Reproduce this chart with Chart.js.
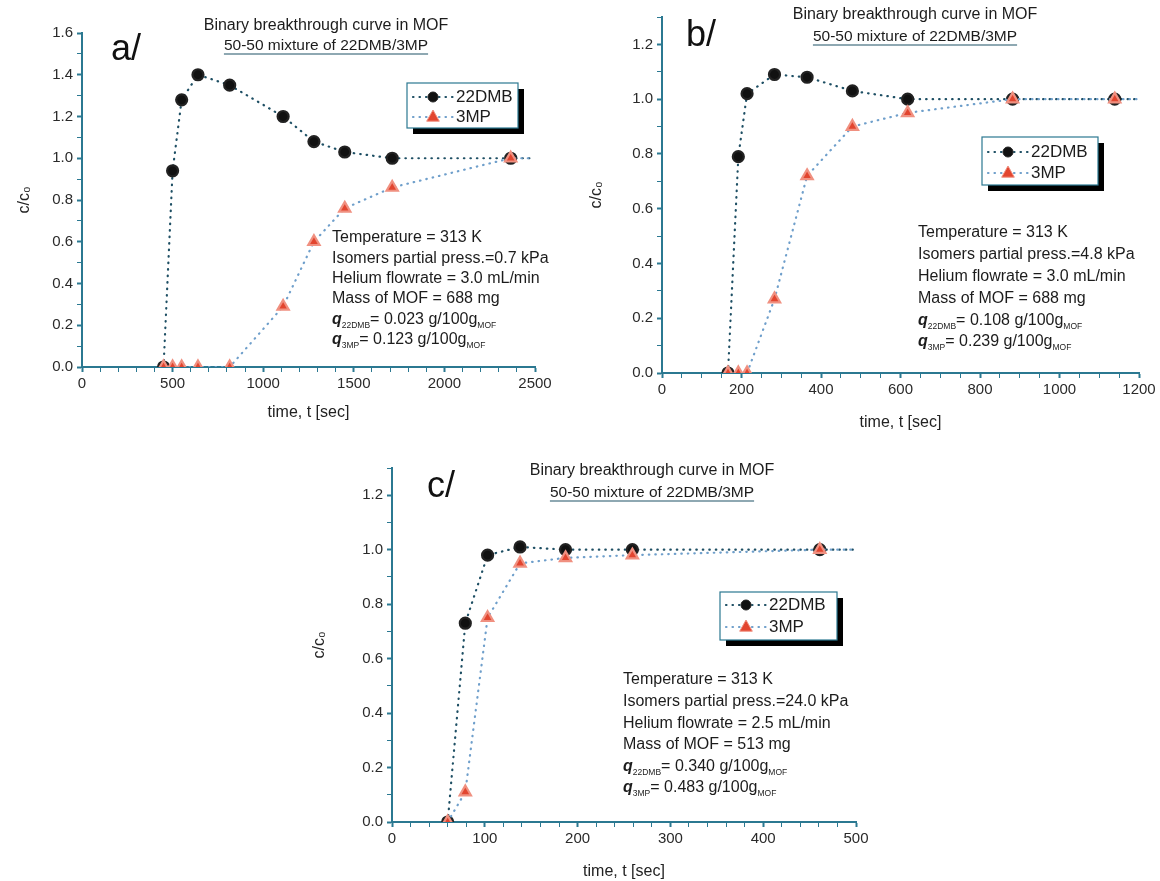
<!DOCTYPE html>
<html>
<head>
<meta charset="utf-8">
<script src="https://cdn.jsdelivr.net/npm/chart.js@4.4.1/dist/chart.umd.min.js"></script>
<style>
  html, body { margin: 0; padding: 0; background: #fff; }
  body { width: 1160px; height: 881px; position: relative; overflow: hidden; }
  canvas { position: absolute; }
</style>
</head>
<body>
<canvas id="chartA" width="580" height="440" style="left:0px;top:0px"></canvas>
<canvas id="chartB" width="580" height="440" style="left:580px;top:0px"></canvas>
<canvas id="chartC" width="590" height="431" style="left:300px;top:450px"></canvas>
<script>
(function () {
    "use strict";

    // data (time in sec, c/c0)
    const timeA = [450, 500, 550, 640, 815, 1110, 1280, 1450, 1712, 2366, 2480];
    const dmbA = [0, 0.94, 1.28, 1.40, 1.35, 1.20, 1.08, 1.03, 1.00, 1.00, 1.00];
    const mpA = [0, 0, 0, 0, 0, 0.29, 0.60, 0.76, 0.86, 1.00, 1.00];

    const timeB = [166, 192, 214, 283, 365, 479, 618, 882, 1139, 1200];
    const dmbB = [0, 0.79, 1.02, 1.09, 1.08, 1.03, 1.00, 1.00, 1.00, 1.00];
    const mpB = [0, 0, 0, 0.27, 0.72, 0.90, 0.95, 1.00, 1.00, 1.00];

    const timeC = [60, 79, 103, 138, 187, 259, 461, 500];
    const dmbC = [0, 0.73, 0.98, 1.01, 1.00, 1.00, 1.00, 1.00];
    const mpC = [0, 0.11, 0.75, 0.95, 0.97, 0.98, 1.00, 1.00];

    const seriesNames = ["22DMB", "3MP"];
    const titleText = "Binary breakthrough curve in MOF";
    const subtitleText = "50-50 mixture of 22DMB/3MP";

    const infoA = ["Temperature = 313 K", "Isomers partial press.=0.7 kPa", "Helium flowrate = 3.0 mL/min", "Mass of MOF = 688 mg"];
    const qA = ["= 0.023 g/100g", "= 0.123 g/100g"];
    const infoB = ["Temperature = 313 K", "Isomers partial press.=4.8 kPa", "Helium flowrate = 3.0 mL/min", "Mass of MOF = 688 mg"];
    const qB = ["= 0.108 g/100g", "= 0.239 g/100g"];
    const infoC = ["Temperature = 313 K", "Isomers partial press.=24.0 kPa", "Helium flowrate = 2.5 mL/min", "Mass of MOF = 513 mg"];
    const qC = ["= 0.340 g/100g", "= 0.483 g/100g"];

    const FONT = '"Liberation Sans", Arial, sans-serif';
    const axisColor = "#2b7891";
    const textColor = "#1c1c1c";

    Chart.defaults.font.family = FONT;

    function drawMarker(ctx, style, x, y, r, fill, stroke) {
        ctx.beginPath();
        if (style === "triangle") {
            ctx.moveTo(x, y - r);
            ctx.lineTo(x + r * 0.9, y + r * 0.6);
            ctx.lineTo(x - r * 0.9, y + r * 0.6);
            ctx.closePath();
        } else {
            ctx.arc(x, y, r, 0, Math.PI * 2);
        }
        ctx.fillStyle = fill;
        ctx.fill();
        ctx.lineWidth = 1;
        ctx.strokeStyle = stroke;
        ctx.stroke();
    }

    // titles, legend box and the experiment notes
    const panelText = {
        id: "panelText",
        afterDraw(chart, args, o) {
            const ctx = chart.ctx;
            ctx.save();
            ctx.fillStyle = "#111";
            ctx.textBaseline = "alphabetic";
            ctx.textAlign = "left";
            ctx.font = "36px " + FONT;
            ctx.fillText(o.tag, o.tagX, o.tagY);

            ctx.fillStyle = textColor;
            ctx.textAlign = "center";
            ctx.textBaseline = "middle";
            ctx.font = "16px " + FONT;
            ctx.fillText(titleText, o.titleX, o.titleY);
            ctx.font = "15.5px " + FONT;
            ctx.fillText(subtitleText, o.titleX, o.subY);
            const w = ctx.measureText(subtitleText).width;
            ctx.strokeStyle = "#1f5266";
            ctx.lineWidth = 1.2;
            ctx.beginPath();
            ctx.moveTo(o.titleX - w / 2, o.subY + 8);
            ctx.lineTo(o.titleX + w / 2, o.subY + 8);
            ctx.stroke();

            // legend with origin-style shadow
            const L = o.legend;
            ctx.fillStyle = "#000";
            ctx.fillRect(L.x + 6, L.y + 6, L.w, L.h);
            ctx.fillStyle = "#fff";
            ctx.fillRect(L.x, L.y, L.w, L.h);
            ctx.strokeStyle = axisColor;
            ctx.lineWidth = 1.2;
            ctx.strokeRect(L.x, L.y, L.w, L.h);
            chart.data.datasets.forEach((ds, i) => {
                const ry = L.y + L.rows[i];
                ctx.save();
                ctx.setLineDash(ds.borderDash);
                ctx.lineCap = "round";
                ctx.strokeStyle = ds.borderColor;
                ctx.lineWidth = ds.borderWidth;
                ctx.beginPath();
                ctx.moveTo(L.x + 6, ry);
                ctx.lineTo(L.x + 46, ry);
                ctx.stroke();
                ctx.restore();
                drawMarker(ctx, ds.pointStyle, L.x + 26, ry, ds.pointStyle === "triangle" ? 7 : 5,
                    ds.pointBackgroundColor, ds.pointBorderColor);
                ctx.fillStyle = textColor;
                ctx.textAlign = "left";
                ctx.textBaseline = "middle";
                ctx.font = "17px " + FONT;
                ctx.fillText(ds.label, L.x + 49, ry);
            });

            // notes
            const P = o.notes;
            ctx.fillStyle = textColor;
            ctx.textAlign = "left";
            ctx.textBaseline = "middle";
            ctx.font = "16px " + FONT;
            P.lines.forEach((t, i) => ctx.fillText(t, P.x, P.y + P.dy * i));
            P.q.forEach((t, i) => {
                let x = P.x;
                const y = P.y + P.dy * (P.lines.length + i);
                ctx.font = "italic bold 16px " + FONT;
                ctx.fillText("q", x, y);
                x += ctx.measureText("q").width;
                ctx.font = "8.5px " + FONT;
                ctx.fillText(seriesNames[i], x, y + 6);
                x += ctx.measureText(seriesNames[i]).width;
                ctx.font = "16px " + FONT;
                ctx.fillText(t, x, y);
                x += ctx.measureText(t).width;
                ctx.font = "8.5px " + FONT;
                ctx.fillText("MOF", x, y + 6);
            });
            ctx.restore();
        },
    };

    function makeChart(id, p) {
        const last = p.time.length - 1;
        const radius = (r) => (c) => (c.dataIndex === last ? 0 : r);
        return new Chart(document.getElementById(id), {
            type: "line",
            data: {
                datasets: [
                    {
                        label: seriesNames[0],
                        data: p.time.map((t, i) => ({ x: t, y: p.dmb[i] })),
                        borderColor: "#1e4f64",
                        borderWidth: 2.2,
                        borderDash: [0.5, 6],
                        borderCapStyle: "round",
                        pointStyle: "circle",
                        pointRadius: radius(5.5),
                        pointBackgroundColor: "#111",
                        pointBorderColor: "#222",
                        order: 1,
                    },
                    {
                        label: seriesNames[1],
                        data: p.time.map((t, i) => ({ x: t, y: p.mp[i] })),
                        borderColor: "#6f9fcb",
                        borderWidth: 2.2,
                        borderDash: [0.5, 6],
                        borderCapStyle: "round",
                        pointStyle: "triangle",
                        pointRadius: radius(6.5),
                        pointBackgroundColor: "#e2452f",
                        pointBorderColor: "#f09080",
                        order: 0,
                    },
                ],
            },
            options: {
                responsive: false,
                animation: false,
                layout: { padding: p.padding },
                plugins: {
                    legend: { display: false },
                    tooltip: { enabled: false },
                    panelText: p.text,
                },
                scales: {
                    x: {
                        type: "linear",
                        min: 0,
                        max: p.xMax,
                        afterFit: (s) => { s.height = p.xHeight; },
                        ticks: {
                            stepSize: p.xMinor,
                            autoSkip: false,
                            maxRotation: 0,
                            padding: 3,
                            color: "#2a2a2a",
                            font: { size: 15 },
                            callback: (v) => (v % p.xMajor === 0 ? v : ""),
                        },
                        grid: {
                            drawOnChartArea: false,
                            tickLength: 5,
                            tickColor: axisColor,
                            tickWidth: (c) => (c.tick && c.tick.value % p.xMajor === 0 ? 2 : 1),
                        },
                        border: { display: true, color: axisColor, width: 2 },
                        title: {
                            display: true,
                            text: "time, t [sec]",
                            color: "#222",
                            font: { size: 16 },
                            padding: { top: 0, bottom: p.xTitlePad },
                        },
                    },
                    y: {
                        min: 0,
                        max: p.yMax,
                        afterFit: (s) => { s.width = p.yWidth; },
                        ticks: {
                            stepSize: 0.1,
                            autoSkip: false,
                            padding: 4,
                            color: "#2a2a2a",
                            font: { size: 15 },
                            callback: (v) => (Math.round(v * 10) % 2 === 0 ? v.toFixed(1) : ""),
                        },
                        grid: {
                            drawOnChartArea: false,
                            tickLength: 5,
                            tickColor: axisColor,
                            tickWidth: (c) => (c.tick && Math.round(c.tick.value * 10) % 2 === 0 ? 2 : 1),
                        },
                        border: { display: true, color: axisColor, width: 2 },
                        title: {
                            display: true,
                            text: "c/c\u2080",
                            color: "#222",
                            font: { size: 16 },
                            padding: { top: p.yTitlePad, bottom: 0 },
                        },
                    },
                },
            },
            plugins: [panelText],
        });
    }

    makeChart("chartA", {
        time: timeA, dmb: dmbA, mp: mpA,
        xMax: 2500, xMinor: 100, xMajor: 500, yMax: 1.6,
        padding: { left: 8, top: 33, right: 45, bottom: 8 },
        yWidth: 74, xHeight: 65, yTitlePad: 7.4, xTitlePad: 9.4,
        text: {
            tag: "a/", tagX: 111, tagY: 60,
            titleX: 326, titleY: 26, subY: 46,
            legend: { x: 407, y: 83, w: 111, h: 45, rows: [14, 34] },
            notes: { x: 332, y: 238, dy: 20.3, lines: infoA, q: qA },
        },
    });

    makeChart("chartB", {
        time: timeB, dmb: dmbB, mp: mpB,
        xMax: 1200, xMinor: 50, xMajor: 200, yMax: 1.3,
        padding: { left: 4, top: 17, right: 21, bottom: 4 },
        yWidth: 78, xHeight: 63, yTitlePad: 3.4, xTitlePad: 3.4,
        text: {
            tag: "b/", tagX: 106, tagY: 46,
            titleX: 335, titleY: 15, subY: 37,
            legend: { x: 402, y: 137, w: 116, h: 48, rows: [15, 36] },
            notes: { x: 338, y: 233, dy: 21.8, lines: infoB, q: qB },
        },
    });

    makeChart("chartC", {
        time: timeC, dmb: dmbC, mp: mpC,
        xMax: 500, xMinor: 20, xMajor: 100, yMax: 1.3,
        padding: { left: 6, top: 18, right: 34, bottom: 0 },
        yWidth: 86, xHeight: 59, yTitlePad: 4.4, xTitlePad: 0,
        text: {
            tag: "c/", tagX: 127, tagY: 47,
            titleX: 352, titleY: 21, subY: 43,
            legend: { x: 420, y: 142, w: 117, h: 48, rows: [13, 35] },
            notes: { x: 323, y: 230, dy: 21.6, lines: infoC, q: qC },
        },
    });
})();
</script>
</body>
</html>
